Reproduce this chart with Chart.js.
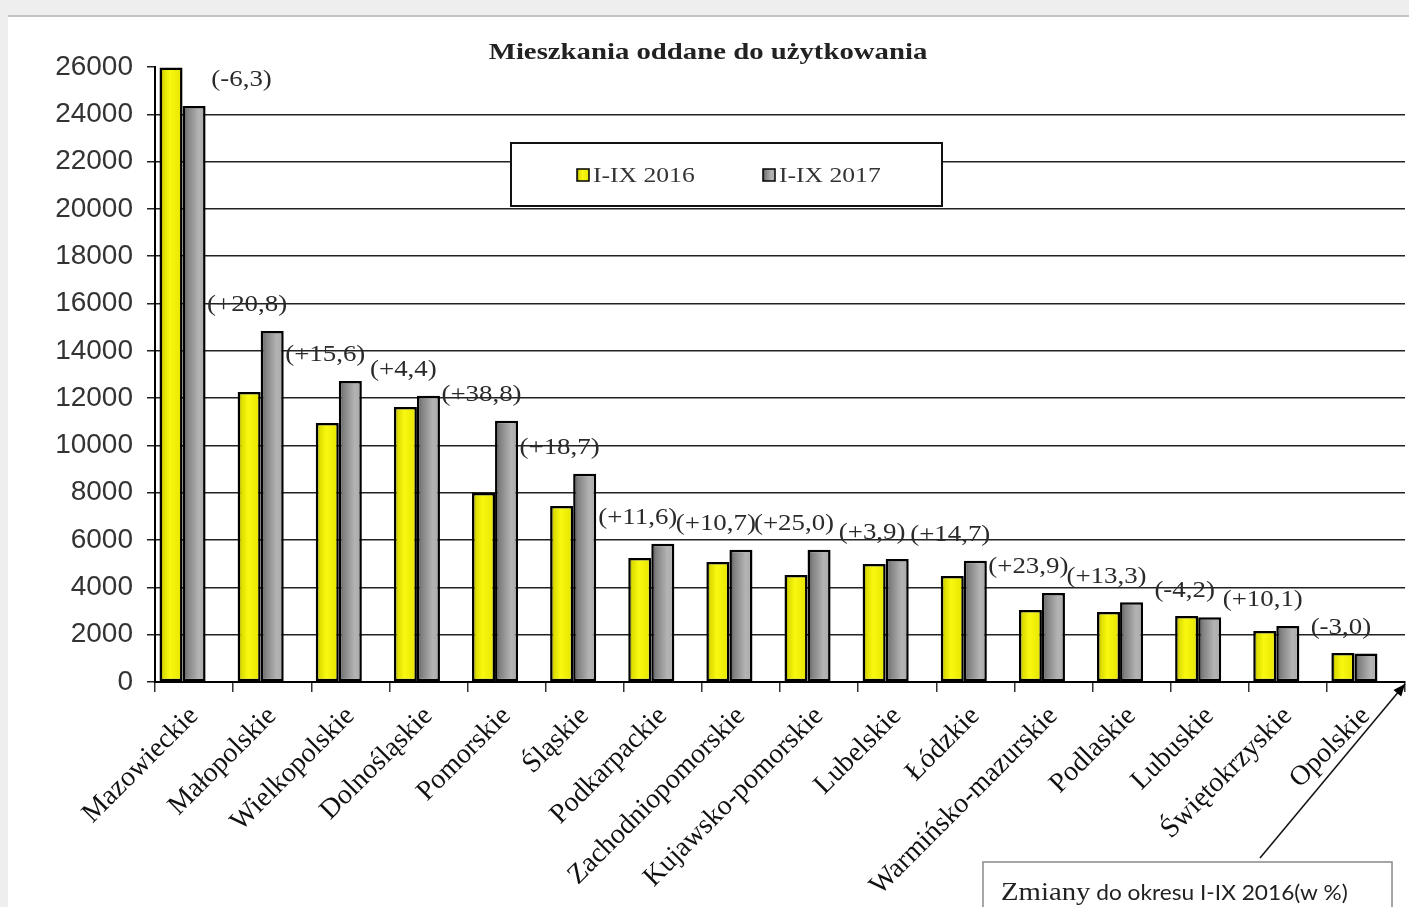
<!DOCTYPE html>
<html>
<head>
<meta charset="utf-8">
<script src="https://cdn.jsdelivr.net/npm/chart.js@4.4.1/dist/chart.umd.min.js"></script>
<style>
  body { margin: 0; background: #eeeeee; }
  #panel { position: absolute; left: 8px; top: 15px; width: 1401px; height: 892px; background: #fff; border-top: 2px solid #c4c4c4; overflow: hidden; }
</style>
</head>
<body>
<div id="panel"><canvas id="chart" width="1401" height="890"></canvas></div>
<script>
// values
const regions = ['Mazowieckie', 'Małopolskie', 'Wielkopolskie', 'Dolnośląskie', 'Pomorskie', 'Śląskie',
  'Podkarpackie', 'Zachodniopomorskie', 'Kujawsko-pomorskie', 'Lubelskie', 'Łódzkie',
  'Warmińsko-mazurskie', 'Podlaskie', 'Lubuskie', 'Świętokrzyskie', 'Opolskie'];
const flats2016 = [25980, 12260, 10950, 11630, 7990, 7440, 5240, 5070, 4520, 4990, 4480, 3040, 2960, 2790, 2160, 1230];
const flats2017 = [24350, 14840, 12720, 12100, 11050, 8800, 5840, 5590, 5590, 5200, 5130, 3760, 3370, 2740, 2370, 1200];
const changeLabels = ['(-6,3)', '(+20,8)', '(+15,6)', '(+4,4)', '(+38,8)', '(+18,7)', '(+11,6)', '(+10,7)',
  '(+25,0)', '(+3,9)', '(+14,7)', '(+23,9)', '(+13,3)', '(-4,2)', '(+10,1)', '(-3,0)'];
const seriesNames = ['I-IX 2016', 'I-IX 2017'];
const yMax = 26000;
const yStep = 2000;
const chartTitle = 'Mieszkania oddane do użytkowania';
const noteLead = 'Zmiany';
const noteRest = ' do okresu I-IX 2016(w %)';

const serif = '"Liberation Serif", "Times New Roman", serif';
const groupShare = 0.885;
const slots = 3;

// text in the picture is a bit wider than normal, so draw it stretched
function wideText(ctx, text, x, y, font, stretch, align) {
  ctx.save();
  ctx.font = font;
  const w = ctx.measureText(text).width * stretch;
  const left = align === 'center' ? x - w / 2 : (align === 'right' ? x - w : x);
  ctx.translate(left, y);
  ctx.scale(stretch, 1);
  ctx.textAlign = 'left';
  ctx.fillText(text, 0, 0);
  ctx.restore();
  return w;
}

const flatColors = ['#eeee00', '#999999'];
const shades = [
  [[0, '#8c8c00'], [0.18, '#dede00'], [0.45, '#f8f810'], [1, '#e4e400']],
  [[0, '#4e4e4e'], [0.2, '#808080'], [0.7, '#b4b4b4'], [1, '#a8a8a8']]
];

function shadeFill(ctx, stops, left, width) {
  const g = ctx.createLinearGradient(left, 0, left + width, 0);
  stops.forEach(s => g.addColorStop(s[0], s[1]));
  return g;
}

// left-to-right gradient for each bar, following the x scale's slots
function barFill(c) {
  const chart = c.chart;
  const xs = chart.scales.x;
  if (c.type !== 'data' || !xs || !chart.chartArea) return flatColors[c.datasetIndex];
  const slot = (xs.right - xs.left) / regions.length * groupShare / slots;
  const left = xs.getPixelForValue(c.dataIndex) - slot * slots / 2 + c.datasetIndex * slot;
  return shadeFill(chart.ctx, shades[c.datasetIndex], left, slot);
}

const extras = {
  id: 'extras',
  afterDraw(chart) {
    const ctx = chart.ctx;
    const area = chart.chartArea;
    const xs = chart.scales.x;

    // title
    ctx.fillStyle = '#222';
    ctx.textBaseline = 'middle';
    wideText(ctx, chartTitle, 700, 36, 'bold 23px ' + serif, 1.25, 'center');

    // legend box
    const bx = area.left + 356, by = area.top + 76, bw = 431, bh = 63;
    ctx.fillStyle = '#fff';
    ctx.fillRect(bx, by, bw, bh);
    ctx.strokeStyle = '#111';
    ctx.lineWidth = 2;
    ctx.strokeRect(bx, by, bw, bh);
    const itemX = [bx + 66, bx + 252];
    seriesNames.forEach((name, i) => {
      ctx.fillStyle = shadeFill(ctx, shades[i], itemX[i], 12);
      ctx.fillRect(itemX[i], by + 26, 12, 12);
      ctx.strokeStyle = '#000';
      ctx.lineWidth = 1.5;
      ctx.strokeRect(itemX[i], by + 26, 12, 12);
      ctx.fillStyle = '#333';
      wideText(ctx, name, itemX[i] + 16, by + 33, '21px ' + serif, 1.22, 'left');
    });

    // change labels over each region
    const catW = (xs.right - xs.left) / regions.length;
    const greyBars = chart.getDatasetMeta(1).data;
    ctx.fillStyle = '#2a2a2a';
    greyBars.forEach((bar, i) => {
      const catLeft = xs.getPixelForValue(i) - catW / 2;
      const cx = i === 0 ? bar.x + bar.width / 2 + 36 : catLeft + 14;
      wideText(ctx, changeLabels[i], cx, bar.y - 26, '24px ' + serif, 1.12, 'center');
    });

    // note box with arrow to the axis end
    const tipX = area.right, tipY = area.bottom + 2;
    const startX = tipX - 145, startY = tipY + 174;
    ctx.strokeStyle = '#111';
    ctx.lineWidth = 1.5;
    ctx.beginPath();
    ctx.moveTo(startX, startY);
    ctx.lineTo(tipX, tipY);
    ctx.stroke();
    const ang = Math.atan2(tipY - startY, tipX - startX);
    ctx.fillStyle = '#000';
    ctx.beginPath();
    ctx.moveTo(tipX, tipY);
    ctx.lineTo(tipX - 13 * Math.cos(ang - 0.4), tipY - 13 * Math.sin(ang - 0.4));
    ctx.lineTo(tipX - 13 * Math.cos(ang + 0.4), tipY - 13 * Math.sin(ang + 0.4));
    ctx.closePath();
    ctx.fill();

    const nx = area.right - 422, ny = area.bottom + 180;
    ctx.fillStyle = '#fff';
    ctx.fillRect(nx, ny, 409, 80);
    ctx.strokeStyle = '#888';
    ctx.lineWidth = 1.5;
    ctx.strokeRect(nx, ny, 409, 80);
    ctx.fillStyle = '#222';
    ctx.textBaseline = 'alphabetic';
    const w1 = wideText(ctx, noteLead, nx + 18, ny + 38, '25px ' + serif, 1.15, 'left');
    wideText(ctx, noteRest, nx + 18 + w1, ny + 38, '21px Lato, "Liberation Sans", sans-serif', 1.08, 'left');
  }
};

new Chart(document.getElementById('chart').getContext('2d'), {
  type: 'bar',
  data: {
    labels: regions,
    datasets: [
      { label: seriesNames[0], data: flats2016, backgroundColor: barFill, borderColor: '#000', borderWidth: 2.5 },
      { label: seriesNames[1], data: flats2017, backgroundColor: barFill, borderColor: '#000', borderWidth: 2.5 },
      // empty third slot keeps the pair shifted left like the original 3-D layout
      { label: '', data: regions.map(() => null), backgroundColor: 'transparent', borderColor: 'transparent' }
    ]
  },
  options: {
    responsive: false,
    animation: false,
    devicePixelRatio: 1,
    layout: { padding: { top: 50, right: 4, left: 0, bottom: 0 } },
    datasets: {
      bar: { categoryPercentage: groupShare, barPercentage: 1, borderSkipped: false }
    },
    plugins: { legend: { display: false }, tooltip: { enabled: false } },
    scales: {
      x: {
        grid: { drawOnChartArea: false, color: '#333', lineWidth: 1.5, tickLength: 10 },
        border: { color: '#000', width: 2 },
        ticks: { autoSkip: false, minRotation: 45, maxRotation: 45, color: '#111', padding: 8,
          font: { family: serif, size: 28 } },
        afterFit(scale) { scale.height = 225; }
      },
      y: {
        min: 0,
        max: yMax,
        ticks: { stepSize: yStep, color: '#333', padding: 14,
          font: { family: '"Liberation Sans", Arial, sans-serif', size: 28 },
          callback: v => String(v) },
        grid: { color: c => (c.tick && c.tick.value === yMax ? 'rgba(0,0,0,0)' : '#222'),
          tickColor: '#222', lineWidth: 1.5, tickLength: 8 },
        border: { color: '#000', width: 2 },
        afterFit(scale) { scale.width = 147; }
      }
    }
  },
  plugins: [extras]
});
</script>
</body>
</html>
